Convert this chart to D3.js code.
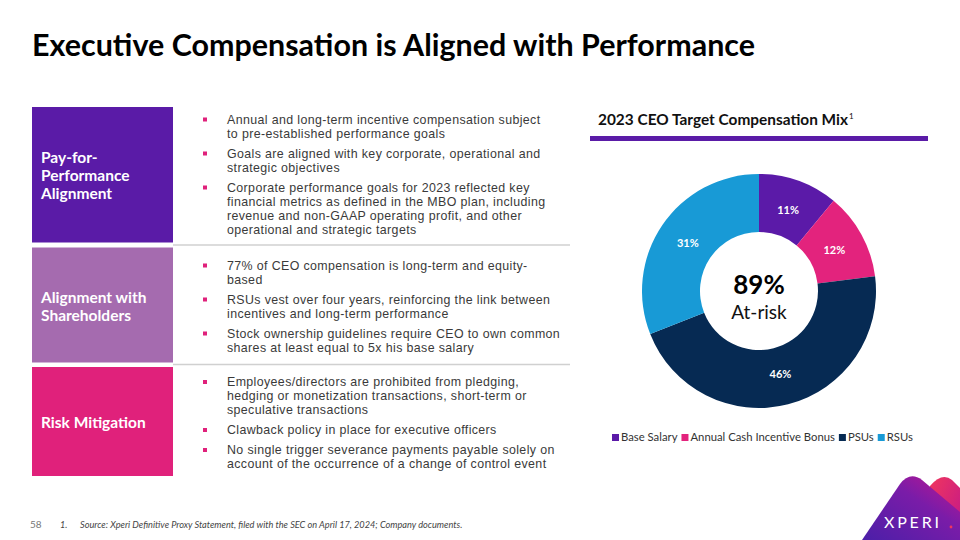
<!DOCTYPE html>
<html><head><meta charset="utf-8">
<script src="https://cdn.jsdelivr.net/npm/d3@7"></script>
<style>
html,body{margin:0;padding:0;background:#fff;}
svg{display:block;}
</style></head>
<body>
<script>
// ---- data ----
const titleText = "Executive Compensation is Aligned with Performance";
const chartTitle = "2023 CEO Target Compensation Mix";
const categories = ["Base Salary", "Annual Cash Incentive Bonus", "PSUs", "RSUs"];
const values = [11, 12, 46, 31];
const centerValue = "89%";
const centerLabel = "At-risk";
const panelTitles = [["Pay-for-", "Performance", "Alignment"], ["Alignment with", "Shareholders"], ["Risk Mitigation"]];
const panelBullets = [
  [["Annual and long-term incentive compensation subject", "to pre-established performance goals"],
   ["Goals are aligned with key corporate, operational and", "strategic objectives"],
   ["Corporate performance goals for 2023 reflected key", "financial metrics as defined in the MBO plan, including", "revenue and non-GAAP operating profit, and other", "operational and strategic targets"]],
  [["77% of CEO compensation is long-term and equity-", "based"],
   ["RSUs vest over four years, reinforcing the link between", "incentives and long-term performance"],
   ["Stock ownership guidelines require CEO to own common", "shares at least equal to 5x his base salary"]],
  [["Employees/directors are prohibited from pledging,", "hedging or monetization transactions, short-term or", "speculative transactions"],
   ["Clawback policy in place for executive officers"],
   ["No single trigger severance payments payable solely on", "account of the occurrence of a change of control event"]]
];
const pageNumber = "58";
const footnoteNumber = "1.";
const footnote = "Source: Xperi Definitive Proxy Statement, filed with the SEC on April 17, 2024; Company documents.";
const logoText = "XPERI";

// ---- drawing ----
const W = 960, H = 540;
const font = "Lato, 'Open Sans', sans-serif";
const bodyFont = "'Liberation Sans', Arial, sans-serif";
const svg = d3.select("body").append("svg").attr("width", W).attr("height", H);
const defs = svg.append("defs");

// title
svg.append("text").attr("x", 32).attr("y", 56)
  .attr("font-family", font).attr("font-weight", 700).attr("font-size", 30)
  .attr("fill", "#000").attr("textLength", 723).attr("lengthAdjust", "spacingAndGlyphs")
  .text(titleText);

// left panels
const panelFill = ["#5A1BA7", "#A56BAF", "#E0217B"];
const panelY = [107, 247.5, 367];
const panelH = [135.5, 115, 109];
const panelTitleY = [163, 303, 428];
const bulletStartY = [123.5, 269.5, 386];
const lineGap = 14, paraGap = 20;

panelTitles.forEach((lines, i) => {
  const g = svg.append("g");
  g.append("rect").attr("x", 32).attr("y", panelY[i]).attr("width", 141).attr("height", panelH[i]).attr("fill", panelFill[i]);
  const tt = g.append("text").attr("x", 41).attr("y", panelTitleY[i])
    .attr("font-family", font).attr("font-weight", 700).attr("font-size", 15.5).attr("fill", "#fff");
  lines.forEach((t, j) => {
    tt.append("tspan").attr("x", 41).attr("dy", j === 0 ? 0 : 18).text(t);
  });
  let y = bulletStartY[i];
  panelBullets[i].forEach((para, k) => {
    if (k > 0) y += paraGap;
    g.append("rect").attr("x", 203).attr("y", y - 6).attr("width", 4).attr("height", 4).attr("fill", "#E0217B");
    const pt = g.append("text").attr("x", 227).attr("y", y)
      .attr("font-family", bodyFont).attr("font-size", 12.4).attr("letter-spacing", 0.38).attr("fill", "#3a3a3a");
    para.forEach((line, m) => {
      pt.append("tspan").attr("x", 227).attr("dy", m === 0 ? 0 : lineGap).text(line);
    });
    y += lineGap * (para.length - 1);
  });
});
// separator lines
[245, 364.5].forEach(y => {
  svg.append("line").attr("x1", 173).attr("x2", 570).attr("y1", y).attr("y2", y)
    .attr("stroke", "#d0d0d0").attr("stroke-width", 1.5);
});

// chart title
const ct = svg.append("text").attr("x", 598).attr("y", 125)
  .attr("font-family", font).attr("font-weight", 700).attr("font-size", 15.4).attr("fill", "#111");
ct.append("tspan").text(chartTitle);
ct.append("tspan").attr("font-size", 8).attr("dx", 1).attr("dy", -6).attr("font-weight", 400).text("1");
svg.append("rect").attr("x", 590).attr("y", 136).attr("width", 338).attr("height", 5).attr("fill", "#5A1BA7");

// donut
const color = d3.scaleOrdinal().domain(categories).range(["#5B1AA8", "#E3237D", "#062A53", "#189AD6"]);
const cx = 759, cy = 291, rOut = 117, rIn = 59;
const pie = d3.pie().sort(null).value(d => d.v);
const arcs = pie(categories.map((c, i) => ({ c, v: values[i] })));
const arc = d3.arc().innerRadius(rIn).outerRadius(rOut);
const dg = svg.append("g").attr("transform", `translate(${cx},${cy})`);
dg.selectAll("path").data(arcs).join("path")
  .attr("d", arc).attr("fill", d => color(d.data.c));
const labelArc = d3.arc().innerRadius(rIn).outerRadius(rOut - 4);
dg.selectAll("text.lbl").data(arcs).join("text").attr("class", "lbl")
  .attr("transform", d => { const p = labelArc.centroid(d); return `translate(${p[0]},${p[1] + 4})`; })
  .attr("text-anchor", "middle").attr("font-family", font).attr("font-weight", 700)
  .attr("font-size", 11).attr("fill", "#fff").text(d => d.data.v + "%");
dg.append("text").attr("y", 3).attr("text-anchor", "middle").attr("font-family", font)
  .attr("font-weight", 700).attr("font-size", 26).attr("fill", "#000").text(centerValue);
dg.append("text").attr("y", 28).attr("text-anchor", "middle").attr("font-family", font)
  .attr("font-size", 19).attr("fill", "#111").text(centerLabel);

// legend
const lg = svg.append("g").attr("transform", "translate(612,441)");
let lx = 0;
categories.forEach(c => {
  lg.append("rect").attr("x", lx).attr("y", -7).attr("width", 7).attr("height", 7).attr("fill", color(c));
  const t = lg.append("text").attr("x", lx + 9).attr("y", 0).attr("font-family", font)
    .attr("font-size", 11.3).attr("fill", "#333").text(c);
  lx += 9 + t.node().getComputedTextLength() + 4;
});

// footer
svg.append("text").attr("x", 30).attr("y", 528).attr("font-family", font).attr("font-size", 10).attr("fill", "#777").text(pageNumber);
svg.append("text").attr("x", 60).attr("y", 528).attr("font-family", font).attr("font-size", 9).attr("font-style", "italic").attr("fill", "#444").text(footnoteNumber);
svg.append("text").attr("x", 80).attr("y", 528).attr("font-family", font).attr("font-size", 9.2).attr("font-style", "italic").attr("fill", "#444").text(footnote);

// logo
const gr = defs.append("linearGradient").attr("id", "lg1").attr("x1", "0").attr("y1", "1").attr("x2", "1").attr("y2", "0");
gr.append("stop").attr("offset", "0").attr("stop-color", "#4B1FA8");
gr.append("stop").attr("offset", "0.6").attr("stop-color", "#7A1CA8");
gr.append("stop").attr("offset", "1").attr("stop-color", "#C2168F");
const gr2 = defs.append("linearGradient").attr("id", "lg2").attr("x1", "0").attr("y1", "0").attr("x2", "1").attr("y2", "1");
gr2.append("stop").attr("offset", "0").attr("stop-color", "#F0365E");
gr2.append("stop").attr("offset", "1").attr("stop-color", "#C0168C");
svg.append("path").attr("d", "M930,486 Q942,472 952,480 L960,488 L960,540 L930,540 Z").attr("fill", "url(#lg2)");
svg.append("path").attr("d", "M862,540 L900,484 Q910,471 922,480 L960,512 L960,540 Z").attr("fill", "url(#lg1)");
svg.append("text").attr("x", 884).attr("y", 528).attr("font-family", font).attr("font-size", 16)
  .attr("letter-spacing", 2.8).attr("fill", "#fff").text(logoText);
svg.append("circle").attr("cx", 951).attr("cy", 527).attr("r", 1.4).attr("fill", "#F0365E");
</script>
</body></html>
